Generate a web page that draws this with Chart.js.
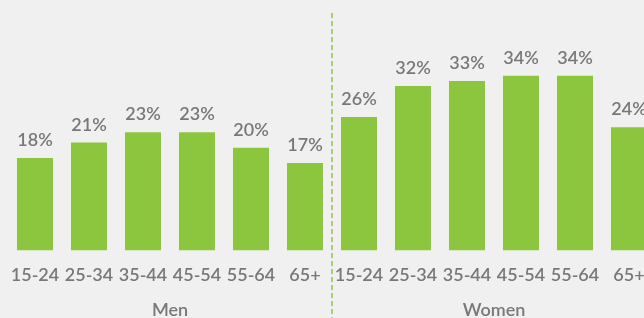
<!DOCTYPE html>
<html>
<head>
<meta charset="utf-8">
<script src="https://cdn.jsdelivr.net/npm/chart.js@4"></script>
<style>
  html, body { margin: 0; padding: 0; background: #f0f0f0; overflow: hidden; }
  #wrap { width: 644px; height: 318px; overflow: hidden; }
  canvas { display: block; }
</style>
</head>
<body>
<div id="wrap"><canvas id="c" width="660" height="318"></canvas></div>
<script>
const ageGroups = ['15-24', '25-34', '35-44', '45-54', '55-64', '65+'];
const groups = ['Men', 'Women'];
const menValues = [18, 21, 23, 23, 20, 17];
const womenValues = [26, 32, 33, 34, 34, 24];

const labels = [...ageGroups, ...ageGroups];
const values = [...menValues, ...womenValues];

const GREEN = '#8cc63f';
const GRAY = '#787878';
const FONT = 'Lato, "Open Sans", sans-serif';

const overlay = {
  id: 'overlay',
  afterDatasetsDraw(chart) {
    const ctx = chart.ctx;
    const x = chart.scales.x;
    const meta = chart.getDatasetMeta(0);
    ctx.save();
    // value labels
    ctx.fillStyle = GRAY;
    ctx.font = '600 18px ' + FONT;
    ctx.textAlign = 'center';
    ctx.textBaseline = 'alphabetic';
    meta.data.forEach((bar, i) => {
      ctx.fillText(values[i] + '%', bar.x, bar.y - 12);
    });
    // divider
    const n = ageGroups.length;
    const xd = Math.round((x.getPixelForValue(n - 1) + x.getPixelForValue(n)) / 2);
    ctx.strokeStyle = '#93cc48';
    ctx.lineWidth = 1.6;
    ctx.setLineDash([5, 3]);
    ctx.beginPath();
    ctx.moveTo(xd, 13);
    ctx.lineTo(xd, 318);
    ctx.stroke();
    ctx.setLineDash([]);
    // group labels
    ctx.font = '600 18px ' + FONT;
    ctx.textBaseline = 'alphabetic';
    groups.forEach((g, gi) => {
      const a = x.getPixelForValue(gi * n);
      const b = x.getPixelForValue(gi * n + n - 1);
      ctx.fillText(g, (a + b) / 2, 316);
    });
    ctx.restore();
  }
};

new Chart(document.getElementById('c'), {
  type: 'bar',
  data: {
    labels: labels,
    datasets: [{
      data: values,
      backgroundColor: GREEN,
      borderWidth: 0,
      categoryPercentage: 1,
      barPercentage: 0.667
    }]
  },
  options: {
    responsive: false,
    devicePixelRatio: 1,
    animation: false,
    layout: { padding: { left: 8, right: 4, top: 45, bottom: 18 } },
    plugins: { legend: { display: false }, tooltip: { enabled: false } },
    scales: {
      y: { display: false, min: 0, max: 40 },
      x: {
        afterFit(scale) { scale.paddingLeft = 0; scale.paddingRight = 0; },
        grid: { display: false, drawTicks: false },
        border: { display: false },
        ticks: {
          color: GRAY,
          font: { family: FONT, size: 18, weight: '600', lineHeight: 1.2 },
          padding: 14,
          maxRotation: 0,
          autoSkip: false
        }
      }
    }
  },
  plugins: [overlay]
});
</script>
</body>
</html>
